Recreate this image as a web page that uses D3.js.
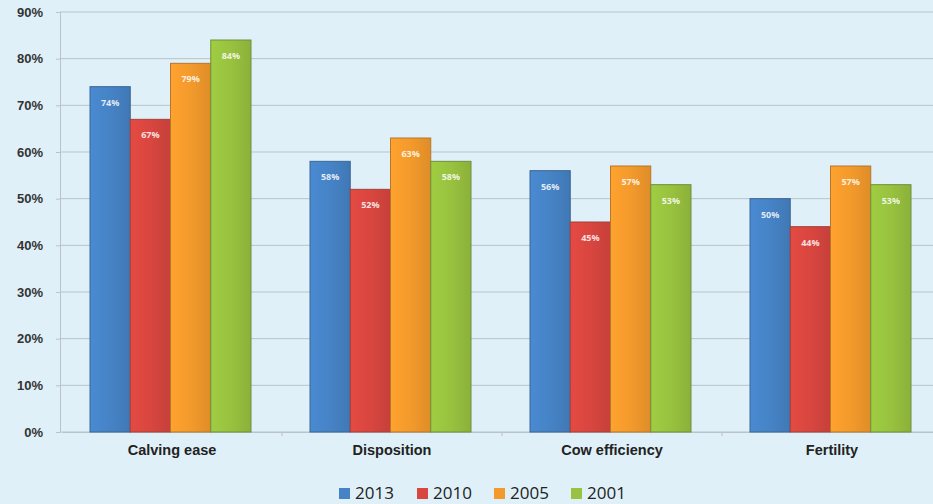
<!DOCTYPE html>
<html><head><meta charset="utf-8">
<script src="https://cdn.jsdelivr.net/npm/d3@7"></script>
<style>
html,body{margin:0;padding:0;background:#dff0f8;}
svg{display:block;font-family:"Open Sans",Lato,sans-serif;}
</style></head>
<body><svg id="c" width="933" height="504"></svg>
<script>
const categories = ["Calving ease","Disposition","Cow efficiency","Fertility"];
const seriesNames = ["2013","2010","2005","2001"];
const v2013 = [74,58,56,50];
const v2010 = [67,52,45,44];
const v2005 = [79,63,57,57];
const v2001 = [84,58,53,53];
const yTicks = [0,10,20,30,40,50,60,70,80,90];
const colors = ["#4683c6","#d8463f","#f39a2c","#98c23f"];
const strokes = ["#3a6796","#a3413b","#b7772b","#718f3a"];

const series = [v2013,v2010,v2005,v2001];
const svg = d3.select("#c");
const W=933,H=504;
svg.append("rect").attr("width",W).attr("height",H).attr("fill","#dff0f8");

const x = d3.scaleBand().domain(categories).range([62,942]).paddingInner(0).paddingOuter(0);
const x1 = d3.scaleBand().domain(seriesNames).range([28,x.bandwidth()-31]).padding(0);
const y = d3.scaleLinear().domain([0,90]).range([432,12]);

// gridlines
svg.append("g").selectAll("line").data(yTicks).join("line")
  .attr("x1",60).attr("x2",W).attr("y1",d=>y(d)).attr("y2",d=>y(d))
  .attr("stroke","#b9c3c9").attr("stroke-width",1);

// y axis
const ya = svg.append("g").attr("transform","translate(60,0)")
  .call(d3.axisLeft(y).tickValues(yTicks).tickFormat(d=>d+"%").tickSize(4));
ya.select(".domain").attr("stroke","#b9c3c9");
ya.selectAll(".tick line").attr("stroke","#b9c3c9");
ya.selectAll("text").attr("fill","#333").attr("font-size",13).attr("font-weight","bold").attr("dx",-10);

// x axis
const xa = svg.append("g").attr("transform","translate(0,432)")
  .call(d3.axisBottom(x).tickSize(0));
xa.select(".domain").attr("stroke","#b9c3c9");
xa.selectAll("text").attr("fill","#222").attr("font-size",14.5).attr("font-weight","600").attr("dy",20);
svg.append("g").selectAll("line").data(categories.slice(1)).join("line")
  .attr("x1",d=>x(d)).attr("x2",d=>x(d)).attr("y1",432).attr("y2",436).attr("stroke","#b9c3c9");

// gradients
const defs = svg.append("defs");
colors.forEach((c,i)=>{
  const g = defs.append("linearGradient").attr("id","g"+i).attr("x1","0").attr("x2","1").attr("y1","0").attr("y2","0");
  g.append("stop").attr("offset","0").attr("stop-color",d3.color(c).brighter(0.15));
  g.append("stop").attr("offset","0.5").attr("stop-color",c);
  g.append("stop").attr("offset","1").attr("stop-color",d3.color(c).darker(0.25));
});

const groups = svg.append("g").selectAll("g").data(categories).join("g")
  .attr("transform",d=>`translate(${x(d)},0)`);
groups.each(function(cat,ci){
  const g = d3.select(this);
  seriesNames.forEach((s,si)=>{
    const v = series[si][ci];
    g.append("rect").attr("x",x1(s)).attr("width",x1.bandwidth()).attr("y",y(v)).attr("height",y(0)-y(v))
      .attr("fill",`url(#g${si})`).attr("stroke",strokes[si]).attr("stroke-width",1);
    g.append("text").attr("x",x1(s)+x1.bandwidth()/2).attr("y",y(v)+19)
      .attr("text-anchor","middle").attr("font-size",9).attr("font-weight","bold")
      .attr("fill","#fff").attr("fill-opacity",0.85).text(v+"%");
  });
});

// legend
const lg = svg.append("g").attr("transform","translate(339,499)");
const lx = [0,78,155,232];
seriesNames.forEach((s,i)=>{
  lg.append("rect").attr("x",lx[i]).attr("y",-11).attr("width",11).attr("height",11).attr("fill",colors[i]);
  lg.append("text").attr("x",lx[i]+16).attr("y",0).attr("font-size",17).attr("fill","#222").text(s);
});
</script></body></html>
